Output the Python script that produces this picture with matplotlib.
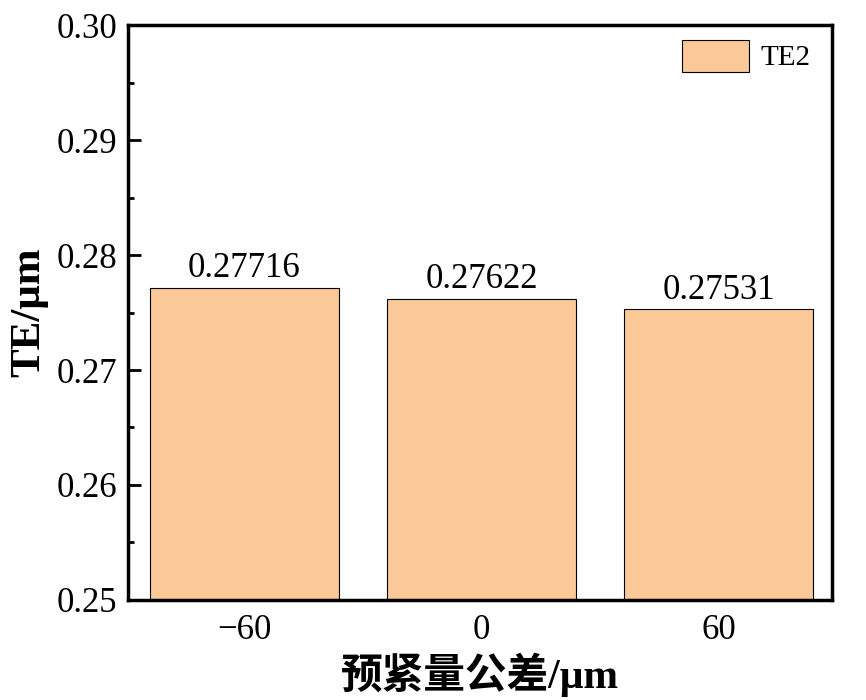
import numpy as np
import matplotlib.pyplot as plt
from matplotlib.ticker import MultipleLocator

# data
categories = ['\u221260', '0', '60']
te2_values = [0.27716, 0.27622, 0.27531]
value_labels = ['0.27716', '0.27622', '0.27531']

plt.rcParams['font.family'] = ['Liberation Serif', 'Noto Sans CJK SC']
plt.rcParams['mathtext.fontset'] = 'stix'

fig = plt.figure(figsize=(8.66, 7.0), dpi=100)
ax = fig.add_axes([0.148, 0.143, 0.813, 0.821])

x = np.arange(len(categories))
bars = ax.bar(x, te2_values, width=0.8, color='#FBC897', edgecolor='black',
              linewidth=0.8, label='TE2')

for b, lab in zip(bars, value_labels):
    ax.text(b.get_x() + b.get_width() / 2, b.get_height() + 0.0002, lab,
            ha='center', va='bottom', fontsize=25)

ax.set_xlim(-0.49, 2.48)
ax.set_ylim(0.25, 0.30)
ax.set_xticks(x)
ax.set_xticklabels(categories)
ax.yaxis.set_major_locator(MultipleLocator(0.01))
ax.yaxis.set_minor_locator(MultipleLocator(0.005))
ax.yaxis.set_major_formatter(plt.FuncFormatter(lambda v, p: '%.2f' % v))

ax.tick_params(axis='y', which='major', direction='in', length=9, width=2,
               labelsize=25, pad=8)
ax.tick_params(axis='y', which='minor', direction='in', length=4, width=2)
ax.tick_params(axis='x', which='both', length=0, labelsize=25, pad=10)

for s in ax.spines.values():
    s.set_linewidth(2.5)

ax.set_ylabel('TE/\u03bcm', fontsize=31, fontweight='bold', labelpad=6)
ax.set_xlabel('预紧量公差/\u03bcm', fontsize=30, fontweight='bold', labelpad=4)

ax.legend(loc='upper right', bbox_to_anchor=(0.99, 1.0), fontsize=21,
          frameon=False, handlelength=2.3, handleheight=1.3,
          borderaxespad=0.1, handletextpad=0.4)

fig.savefig('out.png', dpi=100)
plt.close(fig)
